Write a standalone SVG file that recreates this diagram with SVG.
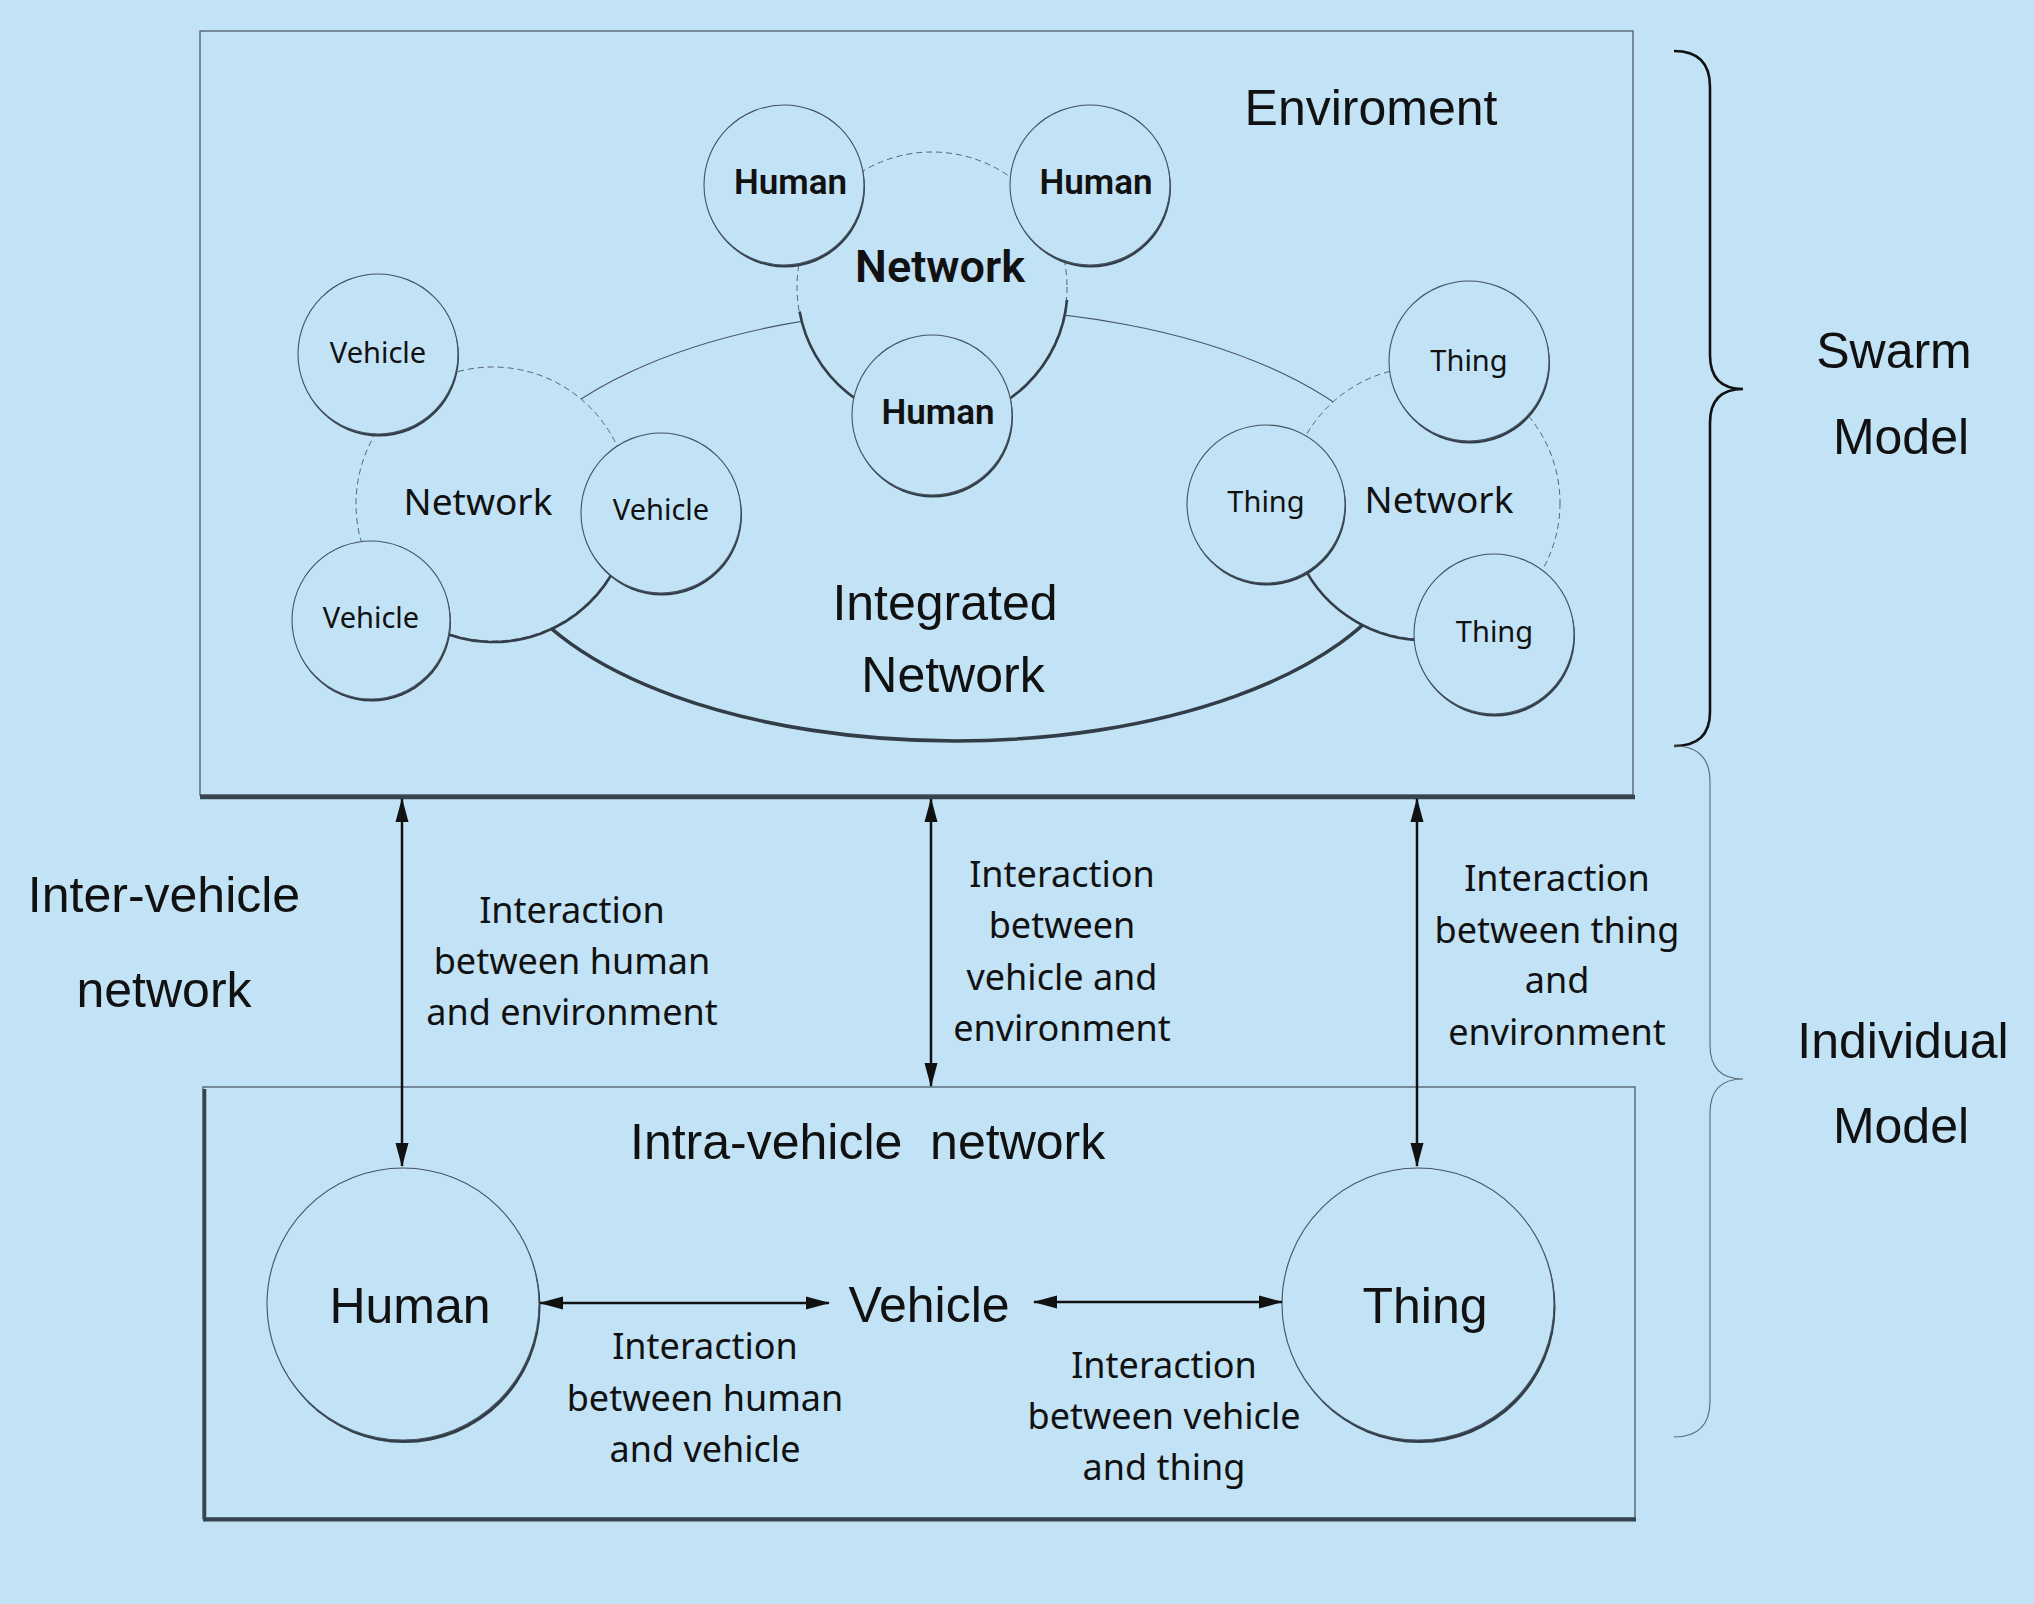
<svg xmlns="http://www.w3.org/2000/svg" width="2034" height="1604" viewBox="0 0 2034 1604">
<defs>
<style>
.bg{fill:#c2e2f6}
.box{fill:#c2e2f6;stroke:#4d5b67;stroke-width:1.3}
.edge{stroke:#37434e;fill:none}
.ent{fill:#c2e2f6;stroke:#45535e;stroke-width:1.1}
.shd{fill:#323d47}
.dash{fill:#c2e2f6;stroke:#5a6570;stroke-width:1;stroke-dasharray:6 4}
.solid{fill:none;stroke:#333e48;stroke-width:2.6}
.ell{fill:#c2e2f6;stroke:#4a5560;stroke-width:1.1}
.ellb{fill:none;stroke:#323d47;stroke-width:3.6}
.arial{font-family:"Liberation Sans",Arial,sans-serif;font-size:50px;fill:#111;text-anchor:middle}
.lbl{font-family:"Noto Sans","Open Sans",sans-serif;font-size:36px;fill:#111;text-anchor:middle}
.sm{font-family:"Noto Sans","Open Sans",sans-serif;font-size:29px;fill:#111;text-anchor:middle}
.net{font-family:"Noto Sans","Open Sans",sans-serif;font-size:37px;fill:#111;text-anchor:middle}
.bold{font-family:Roboto,"Noto Sans",sans-serif;font-weight:600;font-size:35px;fill:#111;text-anchor:middle}
.boldnet{font-family:Roboto,"Noto Sans",sans-serif;font-weight:600;font-size:45px;fill:#111;text-anchor:middle}
.arrow{stroke:#111;stroke-width:2.5;fill:none;marker-start:url(#ah);marker-end:url(#ah)}
.brace{fill:none;stroke:#111;stroke-width:2.6}
.brace2{fill:none;stroke:#5d6a75;stroke-width:1.1}
</style>
<marker id="ah" viewBox="0 0 24 14" refX="23" refY="7" markerWidth="24" markerHeight="14" markerUnits="userSpaceOnUse" orient="auto-start-reverse">
<path d="M0,0.5 L24,7 L0,13.5 Z" fill="#111"/>
</marker>
</defs>

<rect class="bg" x="0" y="0" width="2034" height="1604"/>

<g id="swarm-box">
<rect class="box" x="200" y="31" width="1433" height="764"/>
<line class="edge" x1="200" y1="797" x2="1635" y2="797" stroke-width="4.5"/>
</g>

<g id="integrated-network">
<ellipse class="ell" cx="955" cy="525" rx="460" ry="216"/>
<path class="ellb" d="M1399.3,580.9 A460,216 0 0 1 510.7,580.9"/>
<text class="arial"><tspan x="945" y="619.5">Integrated</tspan><tspan x="953" y="691.5">Network</tspan></text>
</g>

<g id="vehicle-network">
<circle class="dash" cx="493" cy="504" r="137"/>
<path class="solid" d="M617.2,561.9 A137,137 0 0 1 435.1,628.2" transform="translate(0.5,1)"/>
<text class="net" x="478" y="515">Network</text>
</g>

<g id="human-network">
<circle class="dash" cx="932" cy="287" r="135"/>
<path class="solid" d="M1066.5,298.8 A135,135 0 0 1 799.1,310.4" transform="translate(0.5,1)"/>
<text class="boldnet" x="940" y="282">Network</text>
</g>

<g id="thing-network">
<circle class="dash" cx="1424" cy="503" r="136"/>
<path class="solid" d="M1435.9,638.5 A136,136 0 0 1 1300.7,560.5" transform="translate(0.5,1)"/>
<text class="net" x="1439" y="512.5">Network</text>
</g>

<g id="human-1">
<circle class="shd" cx="785" cy="187.5" r="80"/>
<circle class="ent" cx="784" cy="185" r="80"/>
<text class="bold" x="790.5" y="194">Human</text>
</g>
<g id="human-2">
<circle class="shd" cx="1091" cy="187.5" r="80"/>
<circle class="ent" cx="1090" cy="185" r="80"/>
<text class="bold" x="1096" y="194">Human</text>
</g>
<g id="human-3">
<circle class="shd" cx="933" cy="417.5" r="80"/>
<circle class="ent" cx="932" cy="415" r="80"/>
<text class="bold" x="938" y="424">Human</text>
</g>

<g id="vehicle-1">
<circle class="shd" cx="379" cy="356.5" r="80"/>
<circle class="ent" cx="378" cy="354" r="80"/>
<text class="sm" x="378" y="363">Vehicle</text>
</g>
<g id="vehicle-2">
<circle class="shd" cx="662" cy="515.5" r="80"/>
<circle class="ent" cx="661" cy="513" r="80"/>
<text class="sm" x="661" y="520">Vehicle</text>
</g>
<g id="vehicle-3">
<circle class="shd" cx="372" cy="622.5" r="79"/>
<circle class="ent" cx="371" cy="620" r="79"/>
<text class="sm" x="371" y="628">Vehicle</text>
</g>

<g id="thing-1">
<circle class="shd" cx="1470" cy="363.5" r="80"/>
<circle class="ent" cx="1469" cy="361" r="80"/>
<text class="sm" x="1469" y="371">Thing</text>
</g>
<g id="thing-2">
<circle class="shd" cx="1267" cy="506.5" r="79"/>
<circle class="ent" cx="1266" cy="504" r="79"/>
<text class="sm" x="1266" y="512">Thing</text>
</g>
<g id="thing-3">
<circle class="shd" cx="1495" cy="636.5" r="80"/>
<circle class="ent" cx="1494" cy="634" r="80"/>
<text class="sm" x="1494.5" y="642">Thing</text>
</g>

<g id="environment-label">
<text class="arial" x="1371" y="124.5">Enviroment</text>
</g>

<g id="individual-box">
<rect class="box" x="203" y="1087" width="1432" height="431"/>
<line class="edge" x1="204.5" y1="1089" x2="204.5" y2="1520" stroke-width="3.5"/>
<line class="edge" x1="203" y1="1519.5" x2="1636" y2="1519.5" stroke-width="4"/>
<text class="arial" x="630" y="1159" style="text-anchor:start">Intra-vehicle&#160; network</text>
</g>

<g id="human-big">
<circle class="shd" cx="404.5" cy="1307" r="136"/>
<circle class="ent" cx="403" cy="1304" r="136"/>
<text class="arial" x="410" y="1322.5">Human</text>
</g>
<g id="vehicle-big">
<text class="arial" x="929" y="1322">Vehicle</text>
</g>
<g id="thing-big">
<circle class="shd" cx="1419.5" cy="1307" r="136"/>
<circle class="ent" cx="1418" cy="1304" r="136"/>
<text class="arial" x="1425" y="1322.5">Thing</text>
</g>

<g id="connectors">
<line class="arrow" x1="402" y1="799" x2="402" y2="1166"/>
<line class="arrow" x1="931" y1="799" x2="931" y2="1086"/>
<line class="arrow" x1="1417" y1="799" x2="1417" y2="1166"/>
<line class="arrow" x1="540" y1="1303" x2="829" y2="1303"/>
<line class="arrow" x1="1034" y1="1302" x2="1282" y2="1302"/>
</g>

<g id="connector-labels">
<text class="lbl"><tspan x="572" y="922.5">Interaction</tspan><tspan x="572" y="974">between human</tspan><tspan x="572" y="1025">and environment</tspan></text>
<text class="lbl"><tspan x="1062" y="887">Interaction</tspan><tspan x="1062" y="938">between</tspan><tspan x="1062" y="990">vehicle and</tspan><tspan x="1062" y="1041">environment</tspan></text>
<text class="lbl"><tspan x="1557" y="891">Interaction</tspan><tspan x="1557" y="942.5">between thing</tspan><tspan x="1557" y="993">and</tspan><tspan x="1557" y="1045">environment</tspan></text>
<text class="lbl"><tspan x="705" y="1359">Interaction</tspan><tspan x="705" y="1411">between human</tspan><tspan x="705" y="1462">and vehicle</tspan></text>
<text class="lbl"><tspan x="1164" y="1378">Interaction</tspan><tspan x="1164" y="1429">between vehicle</tspan><tspan x="1164" y="1480">and thing</tspan></text>
</g>

<g id="inter-vehicle-label">
<text class="arial"><tspan x="164" y="912">Inter-vehicle</tspan><tspan x="164" y="1007">network</tspan></text>
</g>

<g id="braces">
<path class="brace" d="M1674,51 Q1710,51 1710,87 L1710,355 Q1710,389 1743,389 Q1710,389 1710,423 L1710,712 Q1710,746 1674,746"/>
<path class="brace2" d="M1674,746 Q1710,746 1710,782 L1710,1045 Q1710,1079 1743,1079 Q1710,1079 1710,1113 L1710,1401 Q1710,1437 1674,1437"/>
<text class="arial"><tspan x="1894" y="368">Swarm</tspan><tspan x="1901" y="454">Model</tspan></text>
<text class="arial"><tspan x="1903" y="1058">Individual</tspan><tspan x="1901" y="1143">Model</tspan></text>
</g>
</svg>
